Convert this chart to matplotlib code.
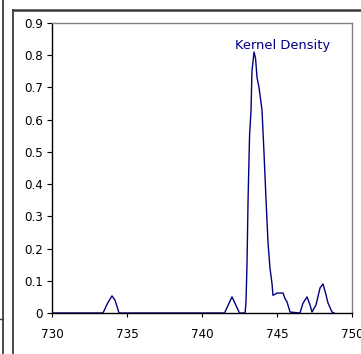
import matplotlib
matplotlib.use("Agg")
import matplotlib.pyplot as plt
from matplotlib.lines import Line2D

# kernel density estimate
grid_x = [730.0, 733.4, 733.7, 734.0, 734.2, 734.47, 741.5, 741.8, 742.0, 742.25,
          742.5, 742.87, 742.93, 743.0, 743.07, 743.17, 743.27, 743.33, 743.47,
          743.57, 743.67, 743.8, 744.0, 744.13, 744.27, 744.4, 744.53, 744.67,
          744.73, 744.87, 745.0, 745.4, 745.53, 745.67, 745.87, 746.53, 746.73,
          747.0, 747.2, 747.33, 747.6, 747.87, 748.07, 748.27, 748.4, 748.67, 748.8]
density = [0.0, 0.0, 0.03, 0.053, 0.04, 0.0, 0.0, 0.03, 0.05, 0.025,
           0.0, 0.0, 0.03, 0.15, 0.35, 0.55, 0.63, 0.75, 0.81,
           0.79, 0.73, 0.70, 0.63, 0.50, 0.35, 0.22, 0.14, 0.09,
           0.055, 0.058, 0.062, 0.062, 0.045, 0.034, 0.003, 0.0, 0.03,
           0.05, 0.025, 0.003, 0.025, 0.078, 0.09, 0.056, 0.031, 0.003, 0.0]

x_ticks = [730, 735, 740, 745, 750]
y_ticks = [0, 0.1, 0.2, 0.3, 0.4, 0.5, 0.6, 0.7, 0.8, 0.9]
y_labels = ["0", "0.1", "0.2", "0.3", "0.4", "0.5", "0.6", "0.7", "0.8", "0.9"]
series_name = "Kernel Density"

plt.rcParams['font.family'] = ['DejaVu Sans']

W, H = 361, 354
fig = plt.figure(figsize=(W / 100, H / 100), dpi=100)
fig.patch.set_facecolor("white")

# bits of the surrounding worksheet frame
def px_line(x0, y0, x1, y1, color="#3a3a3a", lw=1.3):
    fig.add_artist(Line2D([x0 / W, x1 / W], [1 - y0 / H, 1 - y1 / H],
                          transform=fig.transFigure, color=color, lw=lw))

px_line(3, 0, 3, H)
px_line(13, 10, 13, H)
px_line(13, 10, W, 10, lw=1.8)
px_line(0, 319, 3, 319, lw=1)

ax = fig.add_axes([52 / W, 41 / H, 300 / W, 290 / H])
ax.plot(grid_x, density, color="#000080", lw=1.0)

ax.set_xlim(730, 750)
ax.set_ylim(0, 0.9)
ax.set_xticks(x_ticks)
ax.set_xticklabels([str(t) for t in x_ticks])
ax.set_yticks(y_ticks)
ax.set_yticklabels(y_labels)

for side in ["left", "bottom"]:
    ax.spines[side].set_color("black")
    ax.spines[side].set_linewidth(1.0)
for side in ["top", "right"]:
    ax.spines[side].set_color("#808080")
    ax.spines[side].set_linewidth(1.0)

ax.tick_params(axis="y", direction="out", length=3.5, width=0.8, pad=3,
               labelsize=8.6, colors="black", right=False)
ax.tick_params(axis="x", direction="out", length=3, width=0.8, pad=8,
               labelsize=8.6, colors="black", top=False)

ax.text(0.768, 0.924, series_name, transform=ax.transAxes, ha="center",
        va="center", color="#000080", fontsize=9.4)

fig.savefig("out.png", dpi=100)
